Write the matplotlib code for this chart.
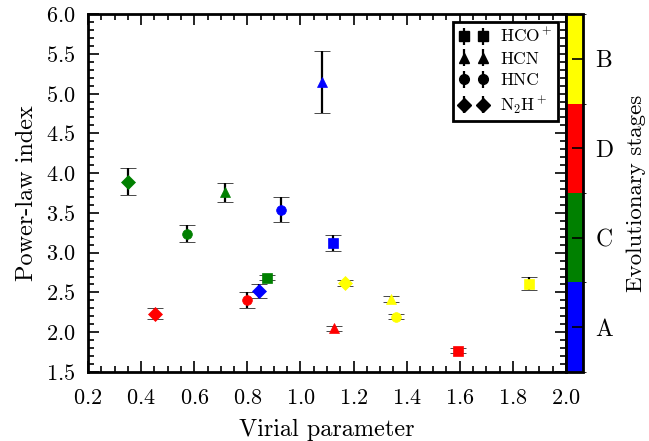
import matplotlib
matplotlib.use("Agg")
import matplotlib.pyplot as plt
from matplotlib.colors import ListedColormap, BoundaryNorm
from matplotlib.colorbar import ColorbarBase
from matplotlib.ticker import MultipleLocator

plt.rcParams["font.family"] = "cmr10"
plt.rcParams["mathtext.fontset"] = "cm"
plt.rcParams["axes.unicode_minus"] = False
plt.rcParams["axes.formatter.use_mathtext"] = True

output = "out.png"

# stage colours, bottom to top of the colour bar
stage_labels = ["A", "C", "D", "B"]
stage_colors = ["#0000ff", "#008000", "#ff0000", "#ffff00"]

molecules = ["HCO$^+$", "HCN", "HNC", "N$_2$H$^+$"]
markers = ["s", "^", "o", "D"]
marker_sizes = [6.5, 7.5, 7, 7]

# per molecule: values for stages A, C, D, B
virial = {
    "HCO$^+$": [1.121, 0.873, 1.593, 1.859],
    "HCN": [1.080, 0.715, 1.126, 1.340],
    "HNC": [0.928, 0.574, 0.797, 1.358],
    "N$_2$H$^+$": [0.843, 0.349, 0.452, 1.168],
}
index = {
    "HCO$^+$": [3.12, 2.685, 1.77, 2.61],
    "HCN": [5.15, 3.76, 2.05, 2.42],
    "HNC": [3.54, 3.24, 2.41, 2.195],
    "N$_2$H$^+$": [2.52, 3.89, 2.235, 2.62],
}
index_err = {
    "HCO$^+$": [0.10, 0.03, 0.03, 0.08],
    "HCN": [0.39, 0.12, 0.03, 0.04],
    "HNC": [0.16, 0.11, 0.10, 0.03],
    "N$_2$H$^+$": [0.09, 0.17, 0.065, 0.04],
}

fig = plt.figure(figsize=(6.49, 4.41), dpi=100)
ax = fig.add_axes([0.1356, 0.1565, 0.7365, 0.8117])
cax = fig.add_axes([0.8721, 0.1565, 0.0262, 0.8117])

err_kw = dict(ecolor="k", elinewidth=1.6, capsize=5.5, capthick=1.6, linestyle="none")

for mol, m, ms in zip(molecules, markers, marker_sizes):
    for x, y, e, c in zip(virial[mol], index[mol], index_err[mol], stage_colors):
        ax.errorbar(x, y, yerr=e, fmt=m, color=c, ms=ms, mec=c, mew=0.5,
                    zorder=3, **err_kw)
    # legend proxy
    ax.errorbar([], [], yerr=[], fmt=m, color="k", ms=ms, label=mol, **err_kw)

ax.set_xlim(0.2, 2.0)
ax.set_ylim(1.5, 6.0)
ax.xaxis.set_major_locator(MultipleLocator(0.2))
ax.xaxis.set_minor_locator(MultipleLocator(0.05))
ax.yaxis.set_major_locator(MultipleLocator(0.5))
ax.yaxis.set_minor_locator(MultipleLocator(0.1))
ax.tick_params(which="both", direction="in", top=True, right=True, width=1.2,
               labelsize=16)
ax.tick_params(which="major", length=8)
ax.tick_params(which="minor", length=4)
ax.tick_params(axis="x", pad=12)
ax.tick_params(axis="y", pad=9)
for sp in ax.spines.values():
    sp.set_linewidth(2)

ax.set_xlabel("Virial parameter", fontsize=17.5, labelpad=8)
ax.set_ylabel("Power-law index", fontsize=17.5, labelpad=6)

leg = ax.legend(loc="upper right", numpoints=2, fontsize=12.5, fancybox=False,
                handlelength=1.7, borderpad=0.3, labelspacing=0.35,
                handletextpad=0.7, borderaxespad=0.45, framealpha=1)
leg.get_frame().set_edgecolor("k")
leg.get_frame().set_linewidth(2)

cmap = ListedColormap(stage_colors)
norm = BoundaryNorm([0, 1, 2, 3, 4], cmap.N)
cb = ColorbarBase(cax, cmap=cmap, norm=norm, ticks=[0.5, 1.5, 2.5, 3.5])
cb.set_ticklabels(stage_labels)
cb.outline.set_linewidth(2)
cax.tick_params(direction="in", length=8, width=1.2, labelsize=17, pad=9)
cb.set_label("Evolutionary stages", fontsize=16.5)
cax.yaxis.set_label_coords(3.55, 0.5)

fig.savefig(output, dpi=100)
